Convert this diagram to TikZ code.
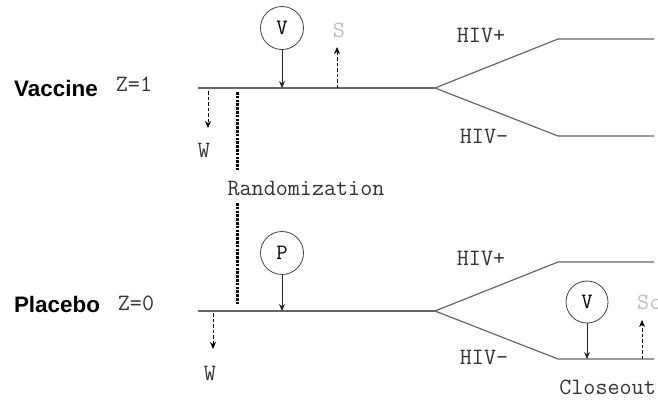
\documentclass[tikz,border=0pt]{standalone}
\usepackage{fontspec}
\setmainfont{Liberation Sans}
\usetikzlibrary{arrows.meta}
\begin{document}
\begin{tikzpicture}[x=1bp,y=-1bp,
  mono/.style={font=\ttfamily\fontsize{23.5}{25}\selectfont, text=black!80, inner sep=0pt},
  grp/.style={font=\bfseries\fontsize{22.5}{26}\selectfont, inner sep=0pt},
  lightlbl/.style={font=\ttfamily\fontsize{23.5}{25}\selectfont, text=black!25, inner sep=0pt},
  arm/.style={draw=black!60, line width=1.2bp},
  visit/.style={circle, draw=black!75, line width=0.8bp, minimum size=43bp, inner sep=0pt, font=\ttfamily\fontsize{22}{24}\selectfont},
  solidarr/.style={draw=black!85, line width=0.9bp, -{Stealth[length=7bp,width=6bp]}},
  dasharr/.style={draw=black, line width=0.8bp, dash pattern=on 3.5bp off 2bp, -{Stealth[length=7bp,width=6bp]}},
  randline/.style={draw=black, line width=3bp, dash pattern=on 2.5bp off 1.3bp}
]
\useasboundingbox (0,0) rectangle (658,400);
\clip (0,0) rectangle (658,400);

% ---- Vaccine arm ----
\node[grp] (vac) at (56,88) {Vaccine};
\node[mono] (z1) at (134,84) {Z=1};
\coordinate (a1) at (198,88);
\coordinate (b1) at (435,88);
\coordinate (u1) at (558,39);
\coordinate (u1e) at (654,39);
\coordinate (d1) at (558,136);
\coordinate (d1e) at (654,136);
\draw[arm] (a1) -- (b1);
\draw[arm] (b1) -- (u1) -- (u1e);
\draw[arm] (b1) -- (d1) -- (d1e);
\node[visit] (v1) at (282,28) {V};
\coordinate (v1t) at (282,88);
\draw[solidarr] (v1.south) -- (v1t);
\node[lightlbl] (s1) at (339,30) {S};
\coordinate (s1a) at (337,88);
\coordinate (s1b) at (337,47);
\draw[dasharr] (s1a) -- (s1b);
\coordinate (w1a) at (208,91);
\coordinate (w1b) at (208,128);
\draw[dasharr] (w1a) -- (w1b);
\node[mono] (w1) at (204,150) {W};
\node[mono] (hp1) at (481,35) {HIV+};
\node[mono] (hm1) at (484,136) {HIV–};

% ---- Randomization ----
\coordinate (r1) at (237,92);
\coordinate (r2) at (237,170);
\coordinate (r3) at (237,203);
\coordinate (r4) at (237,304);
\draw[randline] (r1) -- (r2);
\node[mono] (rand) at (306,188) {Randomization};
\draw[randline] (r3) -- (r4);

% ---- Placebo arm ----
\node[grp] (pla) at (57,304) {Placebo};
\node[mono] (z0) at (136,303) {Z=0};
\coordinate (a0) at (198,311);
\coordinate (b0) at (435,311);
\coordinate (u0) at (558,262);
\coordinate (u0e) at (654,262);
\coordinate (d0) at (558,359);
\coordinate (d0e) at (654,359);
\draw[arm] (a0) -- (b0);
\draw[arm] (b0) -- (u0) -- (u0e);
\draw[arm] (b0) -- (d0) -- (d0e);
\node[visit] (p0) at (282,253) {P};
\coordinate (p0t) at (282,311);
\draw[solidarr] (p0.south) -- (p0t);
\coordinate (w0a) at (213,313);
\coordinate (w0b) at (213,349);
\draw[dasharr] (w0a) -- (w0b);
\node[mono] (w0) at (210,373) {W};
\node[mono] (hp0) at (481,258) {HIV+};
\node[mono] (hm0) at (484,357) {HIV–};
\node[visit, minimum size=42bp] (v0) at (587,302) {V};
\coordinate (v0t) at (587,359);
\draw[solidarr] (v0.south) -- (v0t);
\node[lightlbl, anchor=west] (s0) at (637,302) {Sc};
\coordinate (s0a) at (642,359);
\coordinate (s0b) at (642,320);
\draw[dasharr] (s0a) -- (s0b);
\node[mono, anchor=east] (close) at (656,387) {Closeout};
\end{tikzpicture}
\end{document}
